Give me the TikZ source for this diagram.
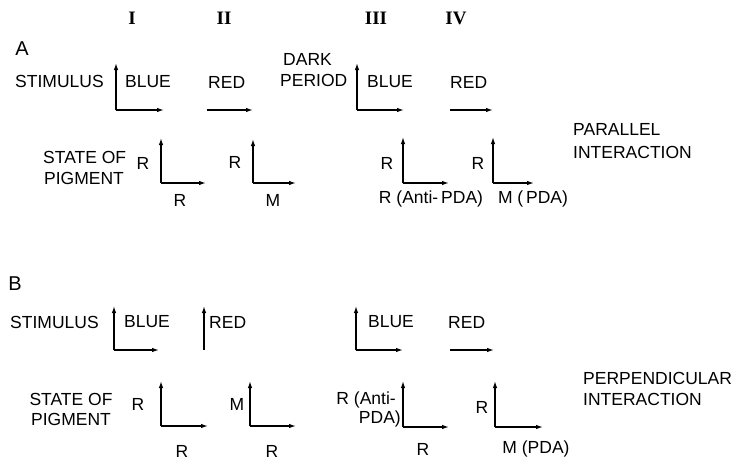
\documentclass[tikz,border=0pt]{standalone}
\usepackage{fontspec}
\setmainfont{Liberation Sans}
\newfontfamily\numfont{Liberation Serif}
\usetikzlibrary{arrows.meta}
\tikzset{
  lbl/.style={inner sep=0pt, font=\fontsize{17.5}{20}\selectfont},
  rom/.style={inner sep=0pt, font=\numfont\bfseries\fontsize{19}{22}\selectfont},
  ax/.style={line width=1.3pt, -{Latex[length=7pt,width=4.5pt]}},
}
\begin{document}
\begin{tikzpicture}[x=1pt, y=-1pt]
\useasboundingbox (0,0) rectangle (735,460);
% roman numerals
\node[rom] (n1) at (132,18) {I};
\node[rom] (n2) at (224,18) {II};
\node[rom] (n3) at (376,18) {III};
\node[rom] (n4) at (456,18) {IV};
% ---------------- Panel A ----------------
\node[lbl, font=\fontsize{20}{22}\selectfont] (A) at (22,49) {A};
\node[lbl, anchor=west] (stimA) at (15,81) {STIMULUS};
% A-I stimulus
\coordinate (sA1o) at (116,110); \coordinate (sA1u) at (116,63); \coordinate (sA1r) at (164,110);
\draw[ax] (sA1o) -- (sA1u); \draw[ax] (sA1o) -- (sA1r);
\node[lbl, anchor=west] (blueA1) at (125,82) {BLUE};
% A-II stimulus
\coordinate (sA2o) at (207,110); \coordinate (sA2r) at (253,110);
\draw[ax] (sA2o) -- (sA2r);
\node[lbl, anchor=west] (redA2) at (208,82) {RED};
% dark period
\node[lbl, anchor=west] (dark) at (283,59) {DARK};
\node[lbl, anchor=west] (period) at (280,80) {PERIOD};
% A-III stimulus
\coordinate (sA3o) at (357,110); \coordinate (sA3u) at (357,63); \coordinate (sA3r) at (404,110);
\draw[ax] (sA3o) -- (sA3u); \draw[ax] (sA3o) -- (sA3r);
\node[lbl, anchor=west] (blueA3) at (367,82) {BLUE};
% A-IV stimulus
\coordinate (sA4o) at (450,110); \coordinate (sA4r) at (493,110);
\draw[ax] (sA4o) -- (sA4r);
\node[lbl, anchor=west] (redA4) at (450,82) {RED};
% state of pigment
\node[lbl, anchor=west] (stateA) at (43,157) {STATE OF};
\node[lbl, anchor=west] (pigA) at (44,178) {PIGMENT};
% A-I pigment
\coordinate (pA1o) at (161,183); \coordinate (pA1u) at (161,138); \coordinate (pA1r) at (206,183);
\draw[ax] (pA1o) -- (pA1u); \draw[ax] (pA1o) -- (pA1r);
\node[lbl] (pA1y) at (143,163) {R};
\node[lbl] (pA1x) at (180,200) {R};
% A-II pigment
\coordinate (pA2o) at (253,183); \coordinate (pA2u) at (253,139); \coordinate (pA2r) at (296,183);
\draw[ax] (pA2o) -- (pA2u); \draw[ax] (pA2o) -- (pA2r);
\node[lbl] (pA2y) at (235,162) {R};
\node[lbl] (pA2x) at (273,200) {M};
% A-III pigment
\coordinate (pA3o) at (403,183); \coordinate (pA3u) at (403,137); \coordinate (pA3r) at (449,183);
\draw[ax] (pA3o) -- (pA3u); \draw[ax] (pA3o) -- (pA3r);
\node[lbl] (pA3y) at (387,163) {R};
\node[lbl] (pA3x) at (431,199) {R (Anti-\,PDA)};
% A-IV pigment
\coordinate (pA4o) at (493,183); \coordinate (pA4u) at (493,137); \coordinate (pA4r) at (534,183);
\draw[ax] (pA4o) -- (pA4u); \draw[ax] (pA4o) -- (pA4r);
\node[lbl] (pA4y) at (478,163) {R};
\node[lbl] (pA4x) at (533,199) {M (\,PDA)};
% interaction label
\node[lbl, anchor=west] (par1) at (573,129) {PARALLEL};
\node[lbl, anchor=west] (par2) at (573,152) {INTERACTION};
% ---------------- Panel B ----------------
\node[lbl, font=\fontsize{20}{22}\selectfont] (B) at (15,284) {B};
\node[lbl, anchor=west] (stimB) at (10,322) {STIMULUS};
% B-I stimulus
\coordinate (sB1o) at (114,350); \coordinate (sB1u) at (114,306); \coordinate (sB1r) at (159,350);
\draw[ax] (sB1o) -- (sB1u); \draw[ax] (sB1o) -- (sB1r);
\node[lbl, anchor=west] (blueB1) at (124,322) {BLUE};
% B-II stimulus
\coordinate (sB2o) at (204,350); \coordinate (sB2u) at (204,306);
\draw[ax] (sB2o) -- (sB2u);
\node[lbl, anchor=west] (redB2) at (209,322) {RED};
% B-III stimulus
\coordinate (sB3o) at (356,350); \coordinate (sB3u) at (356,306); \coordinate (sB3r) at (403,350);
\draw[ax] (sB3o) -- (sB3u); \draw[ax] (sB3o) -- (sB3r);
\node[lbl, anchor=west] (blueB3) at (368,322) {BLUE};
% B-IV stimulus
\coordinate (sB4o) at (450,350); \coordinate (sB4r) at (494,350);
\draw[ax] (sB4o) -- (sB4r);
\node[lbl, anchor=west] (redB4) at (448,322) {RED};
% state of pigment
\node[lbl] (stateB) at (71,399) {STATE OF};
\node[lbl] (pigB) at (71,419) {PIGMENT};
% B-I pigment
\coordinate (pB1o) at (161,426); \coordinate (pB1u) at (161,381); \coordinate (pB1r) at (208,426);
\draw[ax] (pB1o) -- (pB1u); \draw[ax] (pB1o) -- (pB1r);
\node[lbl] (pB1y) at (138,404) {R};
\node[lbl] (pB1x) at (182,451) {R};
% B-II pigment
\coordinate (pB2o) at (250,426); \coordinate (pB2u) at (250,381); \coordinate (pB2r) at (296,426);
\draw[ax] (pB2o) -- (pB2u); \draw[ax] (pB2o) -- (pB2r);
\node[lbl] (pB2y) at (237,404) {M};
\node[lbl] (pB2x) at (272,451) {R};
% B-III pigment
\coordinate (pB3o) at (403,427); \coordinate (pB3u) at (403,381); \coordinate (pB3r) at (449,427);
\draw[ax] (pB3o) -- (pB3u); \draw[ax] (pB3o) -- (pB3r);
\node[lbl, anchor=east] (pB3y1) at (396,400) {R (Anti-};
\node[lbl, anchor=east] (pB3y2) at (401,419) {PDA)};
\node[lbl] (pB3x) at (423,449) {R};
% B-IV pigment
\coordinate (pB4o) at (495,427); \coordinate (pB4u) at (495,381); \coordinate (pB4r) at (543,427);
\draw[ax] (pB4o) -- (pB4u); \draw[ax] (pB4o) -- (pB4r);
\node[lbl] (pB4y) at (482,407) {R};
\node[lbl] (pB4x) at (536,449) {M (PDA)};
% interaction label
\node[lbl, anchor=west] (perp1) at (583,378) {PERPENDICULAR};
\node[lbl, anchor=west] (perp2) at (583,399) {INTERACTION};
\end{tikzpicture}
\end{document}
